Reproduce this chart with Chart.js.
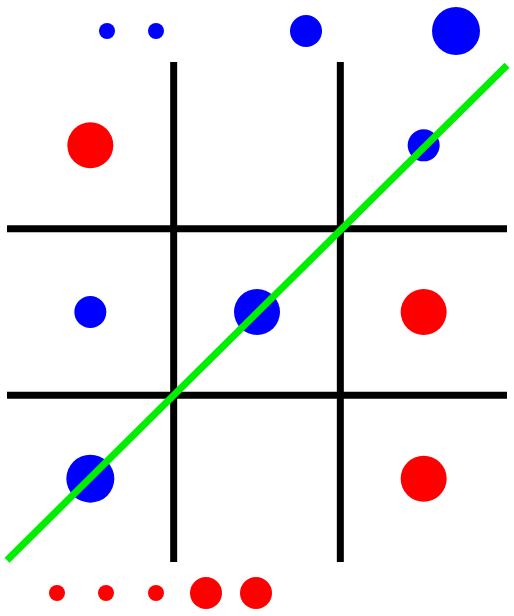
<!DOCTYPE html>
<html>
<head>
<meta charset="utf-8">
<script src="https://cdn.jsdelivr.net/npm/chart.js@4"></script>
<style>
  html, body { margin: 0; padding: 0; background: #fff; }
  #wrap { width: 514px; height: 616px; }
</style>
</head>
<body>
<div id="wrap"><canvas id="myCanvas"></canvas></div>
<script>
// board: 3x3 cells, each cell is one unit
const gridV = [1, 2];
const gridH = [1, 2];
const diagonal = [{x: 0, y: 0.01}, {x: 3, y: 2.98}];

const blueX = [0.6, 0.894, 1.794, 2.694, 2.5, 0.5, 1.5, 0.5];
const blueY = [3.186, 3.186, 3.186, 3.186, 2.5, 1.5, 1.5, 0.5];
const blueR = [8, 8, 16, 24, 16, 16, 23, 24];

const redX = [0.3, 0.594, 0.894, 1.194, 1.494, 0.5, 2.5, 2.5];
const redY = [-0.186, -0.186, -0.186, -0.186, -0.186, 2.5, 1.5, 0.5];
const redR = [8, 8, 8, 16, 16, 23, 23, 23];

function pts(xs, ys) {
    return xs.map(function (x, i) { return {x: x, y: ys[i]}; });
}

var datasets = [];
gridV.forEach(function (v) {
    datasets.push({data: [{x: v, y: 0}, {x: v, y: 3}], showLine: true, borderColor: '#000', borderWidth: 7, pointRadius: 0, order: 2});
});
gridH.forEach(function (h) {
    datasets.push({data: [{x: 0, y: h}, {x: 3, y: h}], showLine: true, borderColor: '#000', borderWidth: 7, pointRadius: 0, order: 2});
});
datasets.push({data: pts(redX, redY), backgroundColor: '#ff0000', borderWidth: 0, pointRadius: redR, order: 1});
datasets.push({data: pts(blueX, blueY), backgroundColor: '#0000ff', borderWidth: 0, pointRadius: blueR, order: 1});
datasets.push({data: diagonal, showLine: true, borderColor: '#00ee00', borderWidth: 7, pointRadius: 0, order: 0});

new Chart(document.getElementById('myCanvas').getContext('2d'), {
    type: 'scatter',
    data: {datasets: datasets},
    options: {
        responsive: true,
        maintainAspectRatio: false,
        animation: false,
        layout: {padding: 0, autoPadding: false},
        plugins: {legend: {display: false}, tooltip: {enabled: false}},
        scales: {
            x: {display: false, min: -0.042, max: 3.042},
            y: {display: false, min: -0.324, max: 3.372}
        }
    }
});
</script>
</body>
</html>
